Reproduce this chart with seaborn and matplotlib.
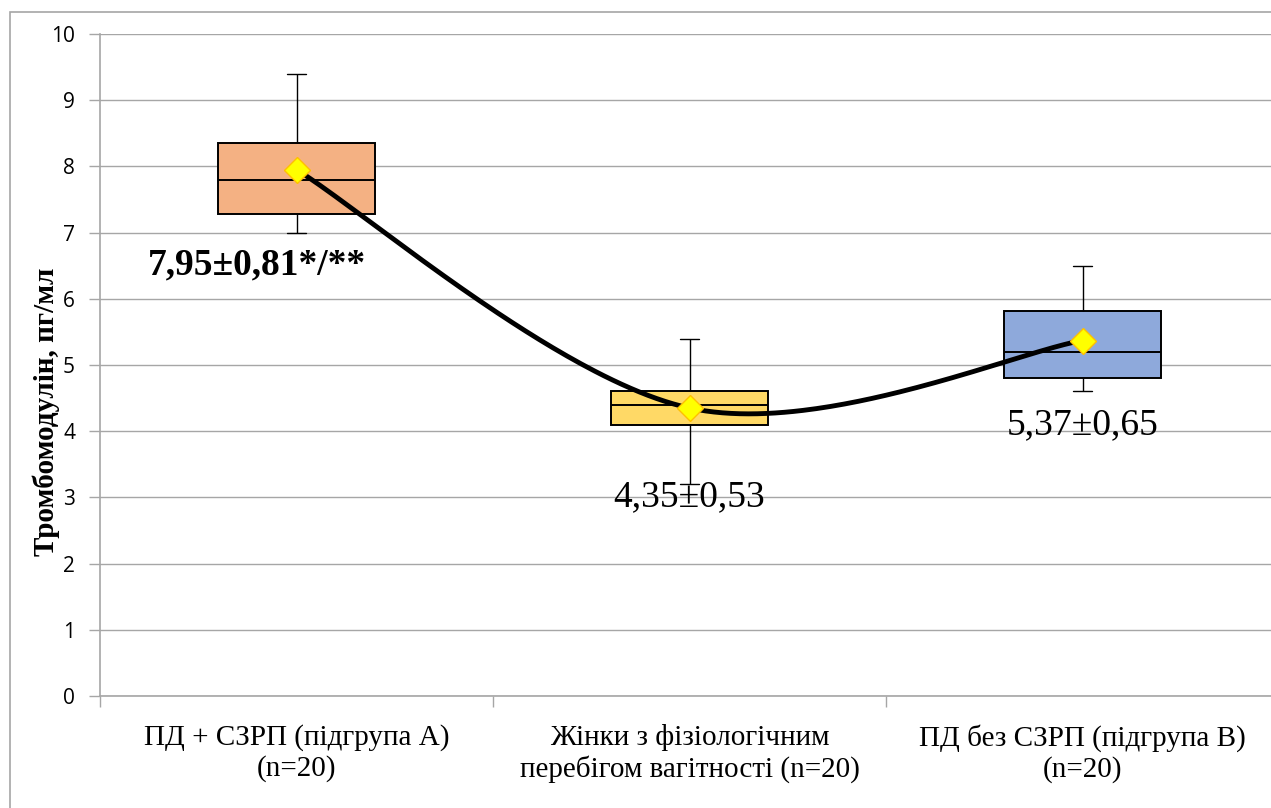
import numpy as np
import pandas as pd
import matplotlib
matplotlib.use("Agg")
import matplotlib.pyplot as plt
from matplotlib.patches import Rectangle
import seaborn as sns

# Group labels
groups = [
    "ПД + СЗРП (підгрупа А)\n(n=20)",
    "Жінки з фізіологічним\nперебігом вагітності (n=20)",
    "ПД без СЗРП (підгрупа В)\n(n=20)",
]
# Five-number summaries (min, Q1, median, Q3, max), pg/ml
mins = [7.0, 3.2, 4.6]
q1s = [7.28, 4.1, 4.8]
medians = [7.8, 4.4, 5.2]
q3s = [8.35, 4.6, 5.82]
maxs = [9.4, 5.4, 6.5]
# Means and SDs
means = [7.95, 4.35, 5.37]
sds = [0.81, 0.53, 0.65]
value_labels = ["7,95±0,81*/**", "4,35±0,53", "5,37±0,65"]
label_y = [6.51, 3.0, 4.09]
label_x_shift = [-0.1, 0.0, 0.0]
box_colors = ["#F4B183", "#FFD966", "#8EA9DB"]

rows = []
for g, a, b, c, d, e in zip(groups, mins, q1s, medians, q3s, maxs):
    for v in (a, b, c, d, e):
        rows.append({"group": g, "value": v})
df = pd.DataFrame(rows)

sns.set_theme(style="white")
plt.rcParams["font.family"] = ["Liberation Serif", "DejaVu Serif"]
plt.rcParams.update({"text.color": "black", "axes.labelcolor": "black",
                     "xtick.color": "black", "ytick.color": "black"})

fig = plt.figure(figsize=(12.71, 8.08), dpi=100)
ax = fig.add_axes([100 / 1271, 1 - 696 / 808, 1179 / 1271, (696 - 34) / 808])

sns.boxplot(
    data=df, x="group", y="value", hue="group", palette=box_colors,
    order=groups, hue_order=groups, legend=False, saturation=1,
    width=0.4, whis=(0, 100), linewidth=1.4, linecolor="black",
    showfliers=False, ax=ax, zorder=3,
)
# shorter whisker caps, thin whiskers
for cont in ax.containers:
    if hasattr(cont, "caps"):
        for cap in cont.caps:
            xd = cap.get_xdata()
            mid = np.mean(xd)
            cap.set_xdata([mid - 0.023, mid + 0.023])
            cap.set_linewidth(1.0)
        for w in cont.whiskers:
            w.set_linewidth(1.0)

# smoothed line through the means (Catmull-Rom / Bezier)
xs = np.arange(len(means), dtype=float)
P = np.column_stack([xs, np.array(means)])
Pext = np.vstack([P[0], P, P[-1]])
t = np.linspace(0, 1, 100)[:, None]
curve = []
for i in range(len(P) - 1):
    p0, p1, p2, p3 = Pext[i], Pext[i + 1], Pext[i + 2], Pext[i + 3]
    b1 = p1 + (p2 - p0) / 6
    b2 = p2 - (p3 - p1) / 6
    seg = ((1 - t) ** 3) * p1 + 3 * ((1 - t) ** 2) * t * b1 + 3 * (1 - t) * t ** 2 * b2 + t ** 3 * p2
    curve.append(seg)
curve = np.vstack(curve)
ax.plot(curve[:, 0], curve[:, 1], color="black", lw=3.5, zorder=5, solid_capstyle="round")
ax.plot(xs, means, ls="none", marker="D", ms=13, mfc="#FFFF00", mec="#FFC000",
        mew=1.0, zorder=6)

for i, (lab, ly, dx) in enumerate(zip(value_labels, label_y, label_x_shift)):
    ax.text(i + dx, ly, lab, ha="center", va="center", fontsize=27,
            fontweight="bold" if i == 0 else "normal", color="black", zorder=7)

ax.set_xlim(-0.5, 2.5)
ax.set_ylim(0, 10)
ax.set_yticks(range(0, 11))
ax.yaxis.grid(True, color="#A6A6A6", lw=1.0)
ax.set_axisbelow(True)
ax.set_xlabel("")
ax.set_ylabel("Тромбомодулін, пг/мл", fontsize=21, fontweight="bold")
ax.yaxis.set_label_coords(-0.034, 0.43)
for lbl in ax.get_yticklabels():
    lbl.set_fontfamily("Open Sans")
    lbl.set_fontsize(15)
ax.tick_params(axis="y", direction="out", length=8, width=1, color="#A6A6A6", pad=10,
               left=True, labelcolor="black")
ax.tick_params(axis="x", which="major", length=0, pad=20, labelsize=21, labelcolor="black")
ax.set_xticks([-0.5, 0.5, 1.5, 2.5], minor=True)
ax.tick_params(axis="x", which="minor", direction="out", length=8, width=1, color="#A6A6A6", bottom=True)
for s in ["top", "right"]:
    ax.spines[s].set_visible(False)
for s in ["left", "bottom"]:
    ax.spines[s].set_color("#A6A6A6")
    ax.spines[s].set_linewidth(1.2)

fig.patches.append(Rectangle((10 / 1271, -0.1), 1.2, 1.1 - 12 / 808,
                             transform=fig.transFigure, fill=False,
                             edgecolor="#A6A6A6", lw=1.2, zorder=0))

fig.savefig("out.png", dpi=100)
